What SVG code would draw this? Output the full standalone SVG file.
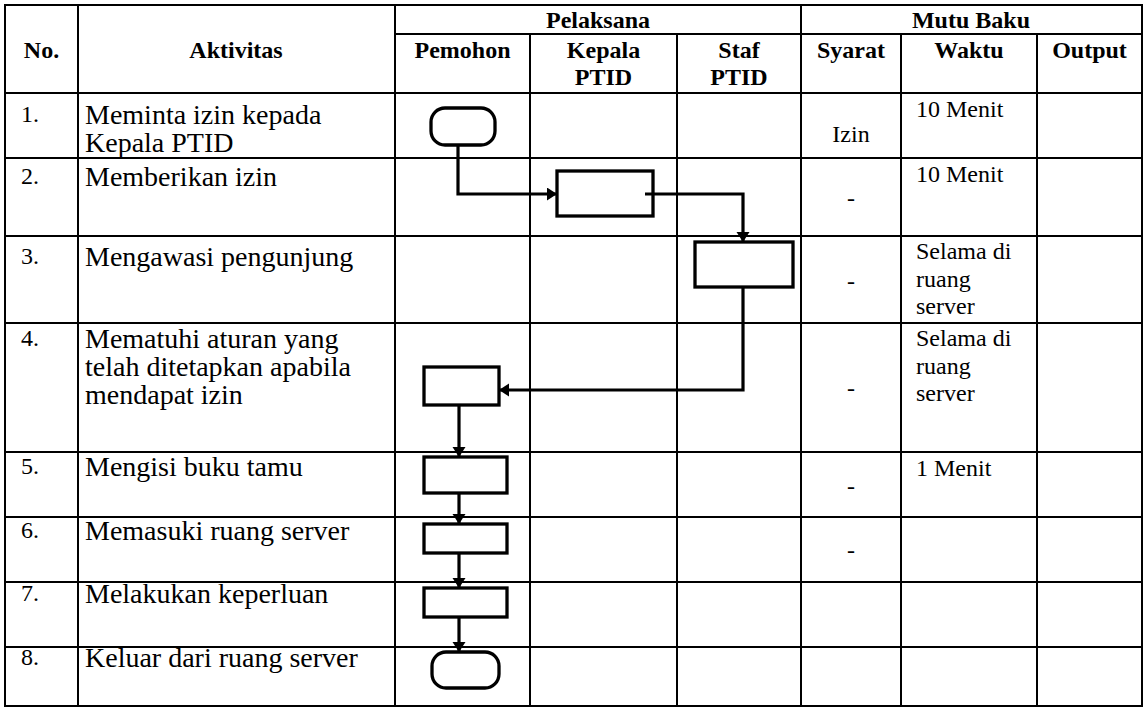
<svg xmlns="http://www.w3.org/2000/svg" width="1144" height="708" viewBox="0 0 1144 708">
<defs>
<style>
.g{stroke:#000;stroke-width:2;fill:none}
.f{font-family:'Liberation Serif','Times New Roman',serif;fill:#000}
.h{font-size:24px;font-weight:bold;text-anchor:middle}
.a{font-size:28px}
.n{font-size:24px}
.w{font-size:24px}
.c{text-anchor:middle}
.s{stroke:#000;stroke-width:3.3;fill:#fff}
.k{stroke:#000;stroke-width:3.2;fill:none}
</style>
<marker id="ah" markerUnits="userSpaceOnUse" markerWidth="11" markerHeight="14" refX="10" refY="6.5" orient="auto">
<path d="M0,0 L10,6.5 L0,13 z" fill="#000"/>
</marker>
</defs>
<rect width="1144" height="708" fill="#fff"/>
<g id="grid" class="g">
<rect x="5" y="5" width="1137" height="701"/>
<line x1="395" y1="34" x2="1142" y2="34"/>
<line x1="5" y1="93" x2="1142" y2="93"/>
<line x1="5" y1="158" x2="1142" y2="158"/>
<line x1="5" y1="236" x2="1142" y2="236"/>
<line x1="5" y1="323" x2="1142" y2="323"/>
<line x1="5" y1="452" x2="1142" y2="452"/>
<line x1="5" y1="517" x2="1142" y2="517"/>
<line x1="5" y1="582" x2="1142" y2="582"/>
<line x1="5" y1="647" x2="1142" y2="647"/>
<line x1="78" y1="5" x2="78" y2="706"/>
<line x1="395" y1="5" x2="395" y2="706"/>
<line x1="530" y1="34" x2="530" y2="706"/>
<line x1="677" y1="34" x2="677" y2="706"/>
<line x1="801" y1="5" x2="801" y2="706"/>
<line x1="901" y1="34" x2="901" y2="706"/>
<line x1="1037" y1="34" x2="1037" y2="706"/>
</g>
<g id="header" class="f h">
<text x="41.5" y="58">No.</text>
<text x="236" y="58">Aktivitas</text>
<text x="598" y="28">Pelaksana</text>
<text x="971" y="28">Mutu Baku</text>
<text x="462.5" y="58">Pemohon</text>
<text x="603.5" y="58">Kepala</text>
<text x="603.5" y="85">PTID</text>
<text x="739" y="58">Staf</text>
<text x="739" y="85">PTID</text>
<text x="851" y="58">Syarat</text>
<text x="969" y="58">Waktu</text>
<text x="1089.5" y="58">Output</text>
</g>
<g id="numbers" class="f n">
<text x="21" y="122">1.</text>
<text x="21" y="184">2.</text>
<text x="21" y="264">3.</text>
<text x="21" y="346">4.</text>
<text x="21" y="474">5.</text>
<text x="21" y="538">6.</text>
<text x="21" y="601">7.</text>
<text x="21" y="665">8.</text>
</g>
<g id="activities" class="f a">
<text x="85" y="124">Meminta izin kepada</text>
<text x="85" y="152">Kepala PTID</text>
<text x="85" y="186">Memberikan izin</text>
<text x="85" y="266">Mengawasi pengunjung</text>
<text x="85" y="348">Mematuhi aturan yang</text>
<text x="85" y="376">telah ditetapkan apabila</text>
<text x="85" y="404">mendapat izin</text>
<text x="85" y="476">Mengisi buku tamu</text>
<text x="85" y="540">Memasuki ruang server</text>
<text x="85" y="603">Melakukan keperluan</text>
<text x="85" y="667">Keluar dari ruang server</text>
</g>
<g id="mutu" class="f w">
<text class="c" x="851" y="142">Izin</text>
<text class="c" x="851" y="206">-</text>
<text class="c" x="851" y="289">-</text>
<text class="c" x="851" y="396">-</text>
<text class="c" x="851" y="494">-</text>
<text class="c" x="851" y="558">-</text>
<text x="916" y="117">10 Menit</text>
<text x="916" y="182">10 Menit</text>
<text x="916" y="259">Selama di</text>
<text x="916" y="286.5">ruang</text>
<text x="916" y="314">server</text>
<text x="916" y="346">Selama di</text>
<text x="916" y="373.5">ruang</text>
<text x="916" y="401">server</text>
<text x="916" y="476">1 Menit</text>
</g>
<g id="connectors" class="k">
<polyline points="458,145 458,194 557,194" marker-end="url(#ah)"/>
<polyline points="645,194 743,194 743,242" marker-end="url(#ah)"/>
<polyline points="743,287 743,390 499,390" marker-end="url(#ah)"/>
<line x1="459" y1="405" x2="459" y2="457" marker-end="url(#ah)"/>
<line x1="459" y1="493" x2="459" y2="524" marker-end="url(#ah)"/>
<line x1="459" y1="553" x2="459" y2="588" marker-end="url(#ah)"/>
<line x1="459" y1="617" x2="459" y2="652" marker-end="url(#ah)"/>
</g>
<g id="n1"><rect class="s" x="431" y="108" width="64" height="37" rx="14"/></g>
<g id="n2"><rect class="s" x="557" y="171" width="96" height="45" style="fill:none"/></g>
<g id="n3"><rect class="s" x="695" y="242" width="98" height="45"/></g>
<g id="n4"><rect class="s" x="424" y="367" width="75" height="38"/></g>
<g id="n5"><rect class="s" x="424" y="457" width="83" height="36"/></g>
<g id="n6"><rect class="s" x="424" y="524" width="83" height="29"/></g>
<g id="n7"><rect class="s" x="424" y="588" width="83" height="29"/></g>
<g id="n8"><rect class="s" x="432" y="652" width="67" height="36" rx="14"/></g>
</svg>
